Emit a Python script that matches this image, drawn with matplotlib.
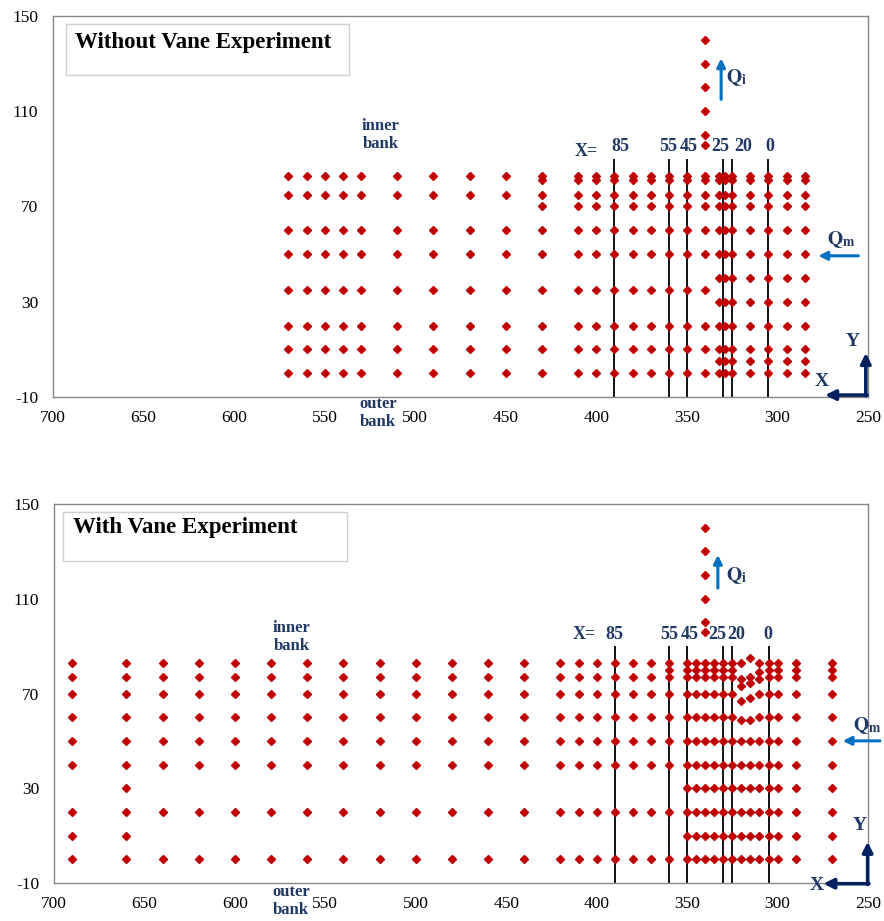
import matplotlib
matplotlib.use("Agg")
import matplotlib.pyplot as plt
from matplotlib.patches import Rectangle

plt.rcParams['font.family'] = ['Liberation Serif', 'DejaVu Serif']
plt.rcParams['mathtext.fontset'] = 'stix'
plt.rcParams['axes.unicode_minus'] = False

# ---------------- data: Without vane (top) ----------------
top_cols_a = [570, 560, 550, 540, 530, 510, 490, 470, 450]
top_rows_a = [83, 75, 60, 50, 35, 20, 10, 0]
top_cols_b = [430, 410, 400, 390, 380, 370, 360, 350, 340]
top_rows_b = [83, 81, 75, 70, 60, 50, 35, 20, 10, 0]
top_cols_c = [332, 329, 325, 315, 305, 295, 285]
top_rows_c = [83, 81, 75, 70, 60, 50, 40, 30, 20, 10, 5, 0]

# ---------------- data: With vane (bottom) ----------------
bot_col_690 = [690]
bot_rows_690 = [83, 77, 70, 60, 50, 40, 20, 10, 0]
bot_col_660 = [660]
bot_rows_660 = [83, 77, 70, 60, 50, 40, 30, 20, 10, 0]
bot_cols_mid = [640, 620, 600, 580, 560, 540, 520, 500, 480, 460, 440, 420,
                410, 400, 390, 380, 370]
bot_rows_mid = [83, 77, 70, 60, 50, 40, 20, 0]
bot_col_360 = [360]
bot_rows_360 = [83, 80, 77, 70, 60, 50, 40, 20, 0]
bot_cols_dense = [350, 345, 340, 335, 330, 325, 305, 300, 290, 270]
bot_rows_dense = [83, 80, 77, 70, 60, 50, 40, 30, 20, 10, 0]
# vane region (individual points)
vane_x = [320, 320, 320, 320, 320, 320, 320, 320, 320, 320, 320,
          315, 315, 315, 315, 315, 315, 315, 315, 315, 315, 315,
          310, 310, 310, 310, 310, 310, 310, 310, 310, 310, 310]
vane_y = [83, 76, 73, 67, 59, 50, 40, 30, 20, 10, 0,
          85, 77, 74.5, 68, 59, 50, 40, 30, 20, 10, 0,
          83, 79, 76, 70, 60, 50, 40, 30, 20, 10, 0]

# inflow (lateral) channel points
inflow_x = [340, 340, 340, 340, 340, 340]
inflow_y = [140, 130, 120, 110, 100, 96]

# measurement section lines
section_x = [390, 360, 350, 330, 325, 305]
section_labels = ['85', '55', '45', '25', '20', '0']

xticks = [700, 650, 600, 550, 500, 450, 400, 350, 300, 250]
yticks = [-10, 30, 70, 110, 150]

RED = '#C00000'
NAVY = '#1F3864'
BLUE = '#0070C0'
DARK = '#002060'
GRAY = '#868686'


def grid_points(cols, rows):
    xs, ys = [], []
    for c in cols:
        for r in rows:
            xs.append(c)
            ys.append(r)
    return xs, ys


fig = plt.figure(figsize=(8.84, 9.21), dpi=100)
ax1 = fig.add_axes([53/884, 1-397/921, 815/884, 381/921])
ax2 = fig.add_axes([54/884, 1-883/921, 814/884, 379/921])

for ax in (ax1, ax2):
    ax.set_xlim(700, 250)
    ax.set_ylim(-10, 150)
    ax.set_xticks(xticks)
    ax.set_yticks(yticks)
    ax.tick_params(length=0, labelsize=12.5)
    ax.tick_params(axis='y', pad=10.5)
    ax.tick_params(axis='x', pad=9.5)
    for s in ax.spines.values():
        s.set_color(GRAY)
        s.set_linewidth(1.0)

mk = dict(marker='D', color=RED, ms=3.8, ls='none', zorder=3, clip_on=False)

# ---- top panel ----
for cols, rows in ((top_cols_a, top_rows_a), (top_cols_b, top_rows_b),
                   (top_cols_c, top_rows_c)):
    xs, ys = grid_points(cols, rows)
    ax1.plot(xs, ys, **mk)
ax1.plot(inflow_x, inflow_y, **mk)

# ---- bottom panel ----
for cols, rows in ((bot_col_690, bot_rows_690), (bot_col_660, bot_rows_660),
                   (bot_cols_mid, bot_rows_mid), (bot_col_360, bot_rows_360),
                   (bot_cols_dense, bot_rows_dense)):
    xs, ys = grid_points(cols, rows)
    ax2.plot(xs, ys, **mk)
ax2.plot(vane_x, vane_y, **mk)
ax2.plot(inflow_x, inflow_y, **mk)

lab_font = dict(color=NAVY, fontweight='bold', fontsize=13, ha='center',
                va='center')

# section lines + labels
top_lab_x = [387, 360.2, 348.8, 331.7, 319, 304]
bot_lab_x = [390, 360, 348.7, 333.5, 322.6, 305.4]
for ax, labx in ((ax1, top_lab_x), (ax2, bot_lab_x)):
    ax.vlines(section_x, -10, 90, color='black', lw=1.3, zorder=2)
    for lx, t in zip(labx, section_labels):
        ax.text(lx, 95, t, **lab_font)
ax1.text(405.7, 93.3, 'X=', **lab_font)
ax2.text(407, 95, 'X=', **lab_font)

# bank labels
bank_font = dict(color=NAVY, fontweight='bold', fontsize=12, ha='center',
                 va='center', linespacing=1.15)
ax1.text(519, 100, 'inner\nbank', **bank_font)
ax1.text(520.5, -16.7, 'outer\nbank', clip_on=False, **bank_font)
ax2.text(568.5, 94, 'inner\nbank', **bank_font)
ax2.text(569, -17.6, 'outer\nbank', clip_on=False, **bank_font)

# titles in boxes
ax1.add_patch(Rectangle((0.016, 0.845), 0.347, 0.134, transform=ax1.transAxes,
                        fill=False, ec='#D0D0D0', lw=1.0))
ax1.text(0.027, 0.93, 'Without Vane Experiment', transform=ax1.transAxes,
         fontsize=16.5, fontweight='bold', ha='left', va='center',
         color='black')
ax2.add_patch(Rectangle((0.011, 0.850), 0.349, 0.129, transform=ax2.transAxes,
                        fill=False, ec='#D0D0D0', lw=1.0))
ax2.text(0.023, 0.937, 'With Vane Experiment', transform=ax2.transAxes,
         fontsize=16.5, fontweight='bold', ha='left', va='center',
         color='black')

# flow arrows
arr_blue = dict(arrowstyle='-|>,head_length=0.5,head_width=0.25', color=BLUE,
                lw=2.2, shrinkA=0, shrinkB=0)
q_font = dict(color=NAVY, fontsize=14, ha='center', va='center')
ax1.annotate('', xy=(331.1, 132.2), xytext=(331.1, 115), arrowprops=arr_blue)
ax1.text(322.5, 124, r'$\mathbf{Q}_{\mathbf{i}}$', **q_font)
ax1.annotate('', xy=(277.4, 49.3), xytext=(255.3, 49.3), arrowprops=arr_blue)
ax1.text(264.5, 56, r'$\mathbf{Q}_{\mathbf{m}}$', **q_font)

ax2.annotate('', xy=(333, 128.5), xytext=(333, 114.5), arrowprops=arr_blue)
ax2.text(322.7, 120, r'$\mathbf{Q}_{\mathbf{i}}$', **q_font)
ax2.annotate('', xy=(264, 50), xytext=(243.4, 50), arrowprops=arr_blue,
             annotation_clip=False)
ax2.text(250.5, 56.5, r'$\mathbf{Q}_{\mathbf{m}}$', clip_on=False, **q_font)

# X / Y orientation glyph
arr_dark = dict(arrowstyle='-|>,head_length=0.6,head_width=0.3', color=DARK,
                lw=2.6, shrinkA=0, shrinkB=0)
xy_font = dict(color=NAVY, fontsize=14, fontweight='bold', ha='center',
               va='center')
ax1.annotate('', xy=(251.2, 8.5), xytext=(251.2, -9.4), arrowprops=arr_dark,
             annotation_clip=False)
ax1.annotate('', xy=(273.7, -9.2), xytext=(250.5, -9.2), arrowprops=arr_dark,
             annotation_clip=False)
ax1.text(258.3, 13.1, 'Y', **xy_font)
ax1.text(275.4, -3.3, 'X', **xy_font)

ax2.annotate('', xy=(250.2, 7.4), xytext=(250.2, -10.6), arrowprops=arr_dark,
             annotation_clip=False)
ax2.annotate('', xy=(274.7, -10.3), xytext=(249.5, -10.3), arrowprops=arr_dark,
             annotation_clip=False)
ax2.text(254.4, 14.1, 'Y', **xy_font)
ax2.text(278.2, -11, 'X', clip_on=False, **xy_font)

fig.savefig('out.png', dpi=100)
